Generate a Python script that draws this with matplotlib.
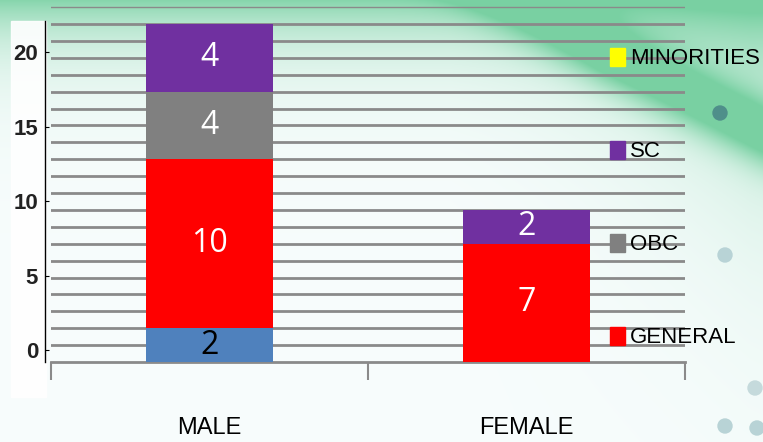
import numpy as np
import matplotlib
matplotlib.use("Agg")
import matplotlib.pyplot as plt
from matplotlib.patches import Patch, Circle, Rectangle

# datos
categorias = ["MALE", "FEMALE"]
otros = [2, 0]        # segmento azul (sin leyenda)
general = [10, 7]
obc = [4, 0]
sc = [4, 2]
minorities = [0, 0]
ticks_y = [0, 5, 10, 15, 20]

c_azul = "#4F81BD"
c_rojo = "#FF0000"
c_gris = "#808080"
c_morado = "#7030A0"
c_amarillo = "#FFFF00"

narrow = ["Liberation Sans", "DejaVu Sans"]

W, H = 763, 442
fig = plt.figure(figsize=(W / 100, H / 100), dpi=100)
fig.patch.set_facecolor("white")

# fondo decorativo (degradado verde)
bg = fig.add_axes([0, 0, 1, 1], zorder=-10)
yy, xx = np.mgrid[0:H, 0:W].astype(float)
verde = np.array([0.42, 0.80, 0.60])
band = np.exp(-yy / 45.0) * 0.8
d = (0.5 * xx - yy - 250) / np.hypot(0.5, 1)
swoosh = np.exp(-(d / 30.0) ** 2) * np.clip((xx - 380) / 220, 0, 1) * 0.9
glow = np.exp(-(np.clip(-d, 0, None) / 110.0)) * np.clip((xx - 450) / 300, 0, 1) * 0.3
a = np.clip(band + swoosh + glow, 0, 0.9)
img = np.ones((H, W, 3)) * np.array([0.97, 0.99, 0.99])
img = img * (1 - a[..., None]) + verde * a[..., None]
bg.imshow(img, extent=[0, W, H, 0], aspect="auto")
for (cx, cy, r, col) in [(720, 113, 7, "#4f8f8a"), (725, 255, 7, "#b8d3d6"),
                         (755, 388, 7, "#c5dadc"), (725, 426, 7, "#b8d3d6"),
                         (757, 428, 7, "#b8d3d6")]:
    bg.add_patch(Circle((cx, cy), r, color=col))
bg.add_patch(Rectangle((11, 21), 35, 376, color="white", alpha=0.9))
bg.set_xlim(0, W)
bg.set_ylim(H, 0)
bg.axis("off")

# grafico principal
ax = fig.add_axes([51 / W, (H - 362) / H, (685 - 51) / W, 362 / H])
ax.patch.set_alpha(0)
x = np.arange(len(categorias))
ancho = 0.4

b0 = ax.bar(x, otros, ancho, color=c_azul, zorder=3)
b1 = ax.bar(x, general, ancho, bottom=otros, color=c_rojo, zorder=3)
base2 = np.add(otros, general)
b2 = ax.bar(x, obc, ancho, bottom=base2, color=c_gris, zorder=3)
base3 = base2 + np.array(obc)
b3 = ax.bar(x, sc, ancho, bottom=base3, color=c_morado, zorder=3)

fuente_num = dict(family=["Open Sans", "DejaVu Sans"], fontsize=23)
for barras, vals, col in [(b0, otros, "black"), (b1, general, "white"),
                          (b2, obc, "white"), (b3, sc, "white")]:
    ax.bar_label(barras, labels=[str(v) if v else "" for v in vals],
                 label_type="center", color=col, **fuente_num)

ax.set_xlim(-0.5, 1.5)
ax.set_ylim(0, 362 / 16.9)
for v in range(1, 22):
    ax.axhline(v, color="#8a8a8a", lw=1.0 if v == 21 else 2.0, zorder=1)

for s in ["top", "right", "left"]:
    ax.spines[s].set_visible(False)
ax.spines["bottom"].set_color("#8a8a8a")
ax.spines["bottom"].set_linewidth(2)
ax.set_yticks([])
ax.set_xticks(x)
ax.set_xticklabels(categorias, family=narrow, fontsize=17)
ax.tick_params(axis="x", which="major", length=0, pad=39.5)
ax.set_xticks([-0.5, 0.5, 1.5], minor=True)
ax.tick_params(axis="x", which="minor", length=13, width=1.5, color="#8a8a8a")

# eje y (imagen pegada en el original)
axl = fig.add_axes([45 / W, (H - 362) / H, 0.5 / W, 341 / H])
axl.patch.set_alpha(0)
axl.set_ylim(-(362 - 350) / 14.9, 20 + (52 - 21) / 14.9)
axl.set_xticks([])
axl.set_yticks(ticks_y)
axl.set_yticklabels([str(t) for t in ticks_y], family=narrow,
                    fontsize=16, fontweight="bold", color="#222222")
axl.tick_params(axis="y", direction="in", length=3, pad=5)
for s in ["top", "right", "bottom"]:
    axl.spines[s].set_visible(False)
axl.spines["left"].set_linewidth(1)

# leyenda
handles = [Patch(color=c_amarillo, label="MINORITIES"),
           Patch(color=c_morado, label="SC"),
           Patch(color=c_gris, label="OBC"),
           Patch(color=c_rojo, label="GENERAL")]
fig.legend(handles=handles, loc="center left",
           bbox_to_anchor=(601 / W, 1 - 198 / H),
           frameon=False, prop=dict(family=narrow, size=16),
           handlelength=0.68, handleheight=0.9, handletextpad=0.22,
           labelspacing=3.2, borderaxespad=0)

plt.savefig("out.png", dpi=100)
plt.close()
